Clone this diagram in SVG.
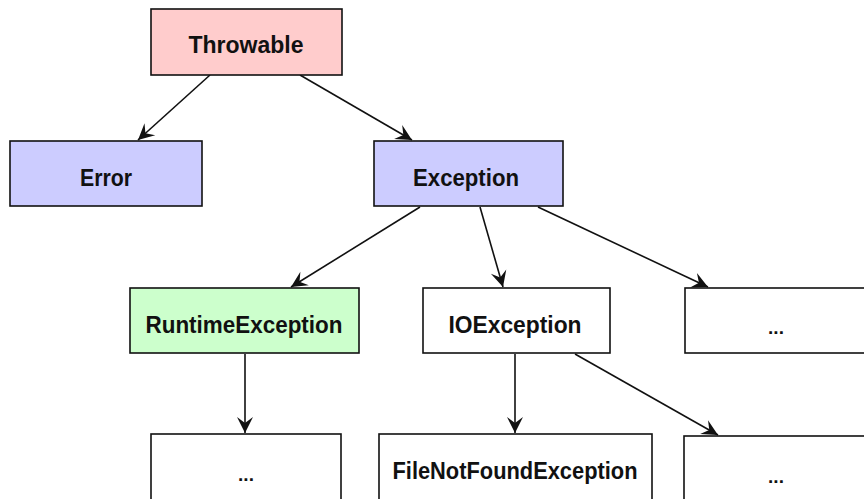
<svg xmlns="http://www.w3.org/2000/svg" width="864" height="499" viewBox="0 0 864 499">
  <style>
    .box { stroke: #111; stroke-width: 1.6; }
    .plain { fill: #ffffff; }
    .root { fill: #ffcccc; }
    .base { fill: #ccccff; }
    .rt { fill: #ccffcc; }
    .lbl { font-family: "Liberation Sans Narrow", "Liberation Sans", Arial, sans-serif; font-weight: bold; font-size: 23px; fill: #111; text-anchor: middle; }
    .dots { font-family: "Liberation Sans", Arial, sans-serif; font-weight: bold; font-size: 19px; fill: #111; text-anchor: middle; }
    .edge { stroke: #111; stroke-width: 1.6; fill: none; marker-end: url(#head); }
  </style>
  <defs>
    <marker id="head" viewBox="-17 -9 19 18" refX="0" refY="0" markerWidth="19" markerHeight="18" markerUnits="userSpaceOnUse" orient="auto">
      <path d="M0,0 L-16,-8 L-10,0 L-16,8 Z" fill="#111"/>
    </marker>
  </defs>
  <rect width="864" height="499" fill="#ffffff"/>

  <g id="connectors">
    <line class="edge" x1="210" y1="75" x2="138" y2="140"/>
    <line class="edge" x1="300" y1="75" x2="412" y2="140"/>
    <line class="edge" x1="420" y1="207" x2="291" y2="287"/>
    <line class="edge" x1="480" y1="207" x2="503" y2="287"/>
    <line class="edge" x1="538" y1="207" x2="708" y2="287"/>
    <line class="edge" x1="245" y1="354" x2="245" y2="433"/>
    <line class="edge" x1="515" y1="354" x2="515" y2="433"/>
    <line class="edge" x1="575" y1="354" x2="718" y2="435"/>
  </g>

  <g id="throwable">
    <rect class="box root" x="151" y="9" width="191" height="66"/>
    <text class="lbl" x="246" y="53" textLength="115" lengthAdjust="spacingAndGlyphs">Throwable</text>
  </g>
  <g id="error">
    <rect class="box base" x="10" y="141" width="192" height="65"/>
    <text class="lbl" x="106" y="186" textLength="52" lengthAdjust="spacingAndGlyphs">Error</text>
  </g>
  <g id="exception">
    <rect class="box base" x="374" y="141" width="189" height="65"/>
    <text class="lbl" x="466" y="186" textLength="106" lengthAdjust="spacingAndGlyphs">Exception</text>
  </g>
  <g id="runtime-exception">
    <rect class="box rt" x="130" y="288" width="229" height="65"/>
    <text class="lbl" x="244" y="333" textLength="197" lengthAdjust="spacingAndGlyphs">RuntimeException</text>
  </g>
  <g id="io-exception">
    <rect class="box plain" x="423" y="288" width="187" height="65"/>
    <text class="lbl" x="515" y="333" textLength="133" lengthAdjust="spacingAndGlyphs">IOException</text>
  </g>
  <g id="other-exception">
    <rect class="box plain" x="685" y="288" width="190" height="65"/>
    <text class="dots" x="776" y="334">...</text>
  </g>
  <g id="runtime-more">
    <rect class="box plain" x="151" y="434" width="190" height="75"/>
    <text class="dots" x="246" y="481">...</text>
  </g>
  <g id="file-not-found">
    <rect class="box plain" x="379" y="434" width="273" height="75"/>
    <text class="lbl" x="515" y="479" textLength="245" lengthAdjust="spacingAndGlyphs">FileNotFoundException</text>
  </g>
  <g id="io-more">
    <rect class="box plain" x="684" y="436" width="190" height="75"/>
    <text class="dots" x="776" y="483">...</text>
  </g>
</svg>
